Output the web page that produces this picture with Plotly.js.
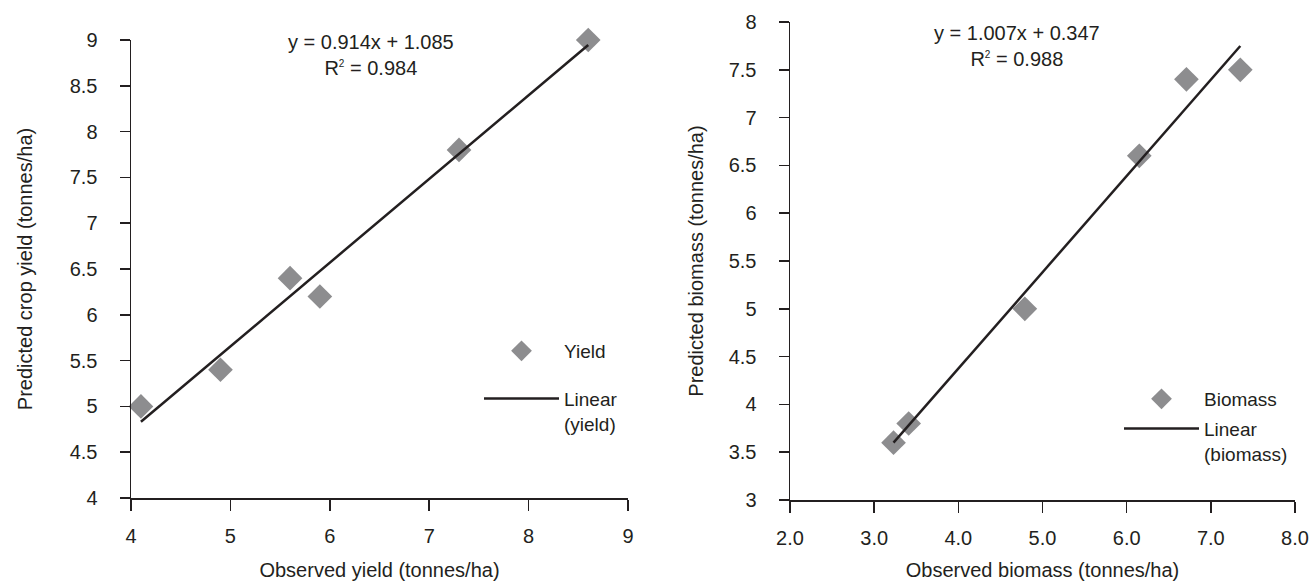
<!DOCTYPE html>
<html><head><meta charset="utf-8">
<script src="https://cdn.plot.ly/plotly-3.0.1.min.js"></script>
<style>html,body{margin:0;padding:0;background:#fff}#chart{width:1312px;height:581px}</style>
</head><body><div id="chart"></div>
<script>
// ---- data ----
const yieldObserved  = [4.1, 4.9, 5.6, 5.9, 7.3, 8.6];
const yieldPredicted = [5.0, 5.4, 6.4, 6.2, 7.8, 9.0];
const yieldSlope = 0.914, yieldIntercept = 1.085, yieldR2 = 0.984;

const biomassObserved  = [3.23, 3.41, 4.79, 6.15, 6.71, 7.35];
const biomassPredicted = [3.6, 3.8, 5.0, 6.6, 7.4, 7.5];
const biomassSlope = 1.007, biomassIntercept = 0.347, biomassR2 = 0.988;

const yieldTicks = [4, 5, 6, 7, 8, 9];
const biomassTicks = [2, 3, 4, 5, 6, 7, 8];

// ---- style ----
const W = 1312, H = 581;
const INK = '#231f20';
const GREY = '#8d8d8f';
const FONT = 'Liberation Sans, Arial, Helvetica, sans-serif';
const px = v => v / W, py = v => 1 - v / H;

function trend(xs, m, b) {
  const x0 = Math.min(...xs), x1 = Math.max(...xs);
  return {x: [x0, x1], y: [m * x0 + b, m * x1 + b]};
}
const t1 = trend(yieldObserved, yieldSlope, yieldIntercept);
const t2 = trend(biomassObserved, biomassSlope, biomassIntercept);

const traces = [
  {x: yieldObserved, y: yieldPredicted, type: 'scatter', mode: 'markers', name: 'Yield',
   marker: {symbol: 'diamond', size: 19, color: GREY}, cliponaxis: false,
   xaxis: 'x', yaxis: 'y', legend: 'legend', legendgroup: 'y1'},
  {x: t1.x, y: t1.y, type: 'scatter', mode: 'lines', name: 'Linear<br>(yield)',
   line: {color: INK, width: 2.5}, xaxis: 'x', yaxis: 'y', legend: 'legend', legendgroup: 'y2'},
  {x: biomassObserved, y: biomassPredicted, type: 'scatter', mode: 'markers', name: 'Biomass',
   marker: {symbol: 'diamond', size: 19, color: GREY}, cliponaxis: false,
   xaxis: 'x2', yaxis: 'y2', legend: 'legend2', legendgroup: 'b1'},
  {x: t2.x, y: t2.y, type: 'scatter', mode: 'lines', name: 'Linear<br>(biomass)',
   line: {color: INK, width: 2.5}, xaxis: 'x2', yaxis: 'y2', legend: 'legend2', legendgroup: 'b2'}
];

const axisBase = {
  showline: true, linecolor: INK, linewidth: 1.5, showgrid: false, zeroline: false,
  ticks: 'outside', tickcolor: INK, tickwidth: 1.5, fixedrange: true,
  tickfont: {family: FONT, size: 20, color: INK}
};
const xBase = Object.assign({}, axisBase, {ticklen: 11, ticklabelstandoff: 8});
const yBase = Object.assign({}, axisBase, {ticklen: 10, ticklabelstandoff: 18});
const titleFont = {family: FONT, size: 20, color: INK};

const legendBase = {
  xanchor: 'left', yanchor: 'top', bgcolor: 'rgba(0,0,0,0)', borderwidth: 0,
  font: {family: FONT, size: 19, color: INK}, traceorder: 'grouped',
  valign: 'top', itemwidth: 75
};

const layout = {
  width: W, height: H, margin: {l: 0, r: 0, t: 0, b: 0},
  paper_bgcolor: '#fff', plot_bgcolor: 'rgba(0,0,0,0)',
  showlegend: true,
  font: {family: FONT, color: INK},
  xaxis: Object.assign({}, xBase, {domain: [px(131), px(628)], range: [4, 9], tickvals: yieldTicks,
    anchor: 'y', title: {text: 'Observed yield (tonnes/ha)', font: titleFont, standoff: 17}}),
  yaxis: Object.assign({}, yBase, {domain: [py(498), py(40)], range: [4, 9], dtick: 0.5, tick0: 4,
    anchor: 'x', title: {text: 'Predicted crop yield (tonnes/ha)', font: titleFont, standoff: 31}}),
  xaxis2: Object.assign({}, xBase, {domain: [px(790), px(1295)], range: [2, 8], tickvals: biomassTicks,
    tickformat: '.1f', anchor: 'y2', title: {text: 'Observed biomass (tonnes/ha)', font: titleFont, standoff: 17}}),
  yaxis2: Object.assign({}, yBase, {domain: [py(500), py(22)], range: [3, 8], dtick: 0.5, tick0: 3,
    anchor: 'x2', title: {text: 'Predicted biomass (tonnes/ha)', font: titleFont, standoff: 19}}),
  legend: Object.assign({}, legendBase, {x: px(479), y: py(332), tracegroupgap: 20}),
  legend2: Object.assign({}, legendBase, {x: px(1119), y: py(380), tracegroupgap: 2}),
  annotations: [
    {xref: 'paper', yref: 'paper', x: px(371), y: py(55), xanchor: 'center', yanchor: 'middle',
     showarrow: false, font: {family: FONT, size: 20, color: INK},
     text: 'y = ' + yieldSlope.toFixed(3) + 'x + ' + yieldIntercept.toFixed(3) +
           '<br>R<sup><span style="font-size:10px">2</span></sup> = ' + yieldR2.toFixed(3)},
    {xref: 'paper', yref: 'paper', x: px(1017), y: py(46), xanchor: 'center', yanchor: 'middle',
     showarrow: false, font: {family: FONT, size: 20, color: INK},
     text: 'y = ' + biomassSlope.toFixed(3) + 'x + ' + biomassIntercept.toFixed(3) +
           '<br>R<sup><span style="font-size:10px">2</span></sup> = ' + biomassR2.toFixed(3)}
  ]
};

Plotly.newPlot('chart', traces, layout, {staticPlot: true, displayModeBar: false});
</script>
</body></html>
